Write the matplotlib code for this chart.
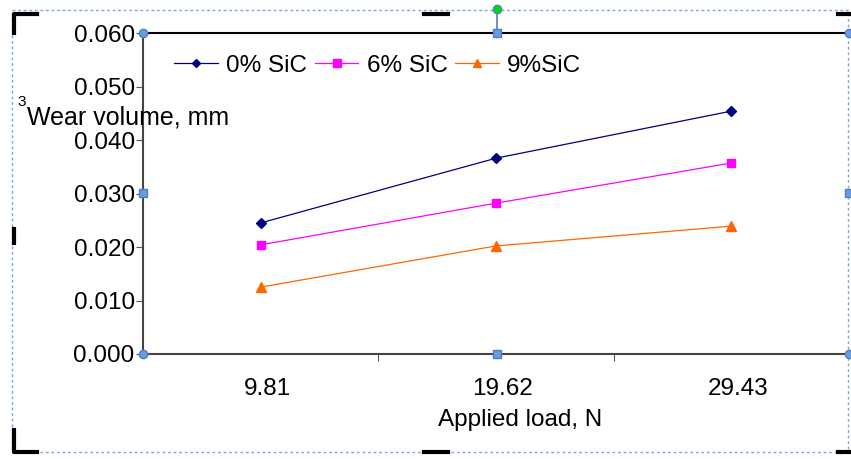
import matplotlib.pyplot as plt
import matplotlib.transforms as mtransforms
from matplotlib.lines import Line2D
from matplotlib.patches import Rectangle

plt.rcParams['font.family'] = ['Liberation Sans', 'DejaVu Sans']

# data
loads = ["9.81", "19.62", "29.43"]
sic0 = [0.0245, 0.0366, 0.0454]
sic6 = [0.0204, 0.0282, 0.0357]
sic9 = [0.0125, 0.0202, 0.0239]
series_names = ["0% SiC", "6% SiC", "9%SiC"]
yticks = [0.0, 0.01, 0.02, 0.03, 0.04, 0.05, 0.06]

FS = 17.5
W, H = 851, 459
fig = plt.figure(figsize=(W / 100, H / 100), dpi=100)
ax = fig.add_axes([143 / W, 1 - 354 / H, 706 / W, 321 / H])

x = range(len(loads))
ax.plot(x, sic0, color="#000080", marker="D", ms=5, lw=0.9, label=series_names[0])
ax.plot(x, sic6, color="#ff00ff", marker="s", ms=6, lw=0.9, label=series_names[1])
ax.plot(x, sic9, color="#ff6600", marker="^", ms=7, lw=0.9, label=series_names[2])

ax.set_xlim(-0.5, 2.5)
ax.set_ylim(0, 0.06)
ax.set_yticks(yticks)
ax.set_yticklabels([f"{v:.3f}" for v in yticks], fontsize=FS)
ax.set_xticks([0.5, 1.5])
ax.set_xticklabels([])
ax.set_xticks(list(x), minor=True)
ax.set_xticklabels(loads, minor=True, fontsize=FS)
ax.tick_params(axis="x", which="minor", length=0, pad=17)
ax.tick_params(axis="x", which="major", length=5, color="#555555")
ax.tick_params(axis="y", length=5, color="#555555", pad=1)
shift = mtransforms.ScaledTranslation(7 / 100, 0, fig.dpi_scale_trans)
for lab in ax.get_xticklabels(minor=True):
    lab.set_transform(lab.get_transform() + shift)

ax.spines["right"].set_visible(False)
for s in ["left", "bottom"]:
    ax.spines[s].set_color("#444444")
    ax.spines[s].set_linewidth(1.5)
ax.spines["top"].set_color("black")
ax.spines["top"].set_linewidth(1.5)

ax.set_xlabel("Applied load, N", fontsize=FS)
ax.xaxis.set_label_coords(520 / W, 1 - 420 / H, transform=fig.transFigure)
ax.xaxis.label.set_va("center")

leg = ax.legend(loc="upper left", bbox_to_anchor=(0.02, 0.985), ncol=3, frameon=False,
                fontsize=FS, handlelength=1.8, handletextpad=0.35, columnspacing=0.3,
                borderaxespad=0.3, markerscale=0.9)

# misplaced y label as in the screenshot
fig.text(26 / W, 1 - 102 / H, "3", fontsize=11, va="center", ha="right")
fig.text(27 / W, 1 - 117 / H, "Wear volume, mm", fontsize=FS + 0.5, va="center", ha="left")

# selection frame from the screenshot
fig.add_artist(Rectangle((12 / W, 1 - 452 / H), 836 / W, 442 / H, transform=fig.transFigure,
                         fill=False, ec="#7aa7e0", lw=1, ls=(0, (2, 2))))
marks = [
    ([14, 14, 37], [33, 14, 14]), ([14, 14, 37], [430, 452, 452]),
    ([424, 448], [14, 14]), ([424, 448], [452, 452]),
    ([14, 14], [229, 243]), ([838, 851], [14, 14]), ([838, 851], [452, 452]),
]
for xs, ys in marks:
    fig.add_artist(Line2D([v / W for v in xs], [1 - v / H for v in ys],
                          transform=fig.transFigure, color="black", lw=3))
fig.add_artist(Line2D([497 / W, 497 / W], [1 - 9 / H, 1 - 33 / H],
                      transform=fig.transFigure, color="#4f81bd", lw=1.2))
fig.add_artist(Line2D([497 / W], [1 - 9 / H], transform=fig.transFigure, marker="o",
                      ms=6, mfc="#00dd00", mec="#4f81bd"))
for hx, hy in [(143, 33), (849, 33), (143, 354), (849, 354)]:
    fig.add_artist(Line2D([hx / W], [1 - hy / H], transform=fig.transFigure, marker="o",
                          ms=6, mfc="#6a9be0", mec="#4f81bd"))
for hx, hy in [(497, 33), (143, 193), (849, 193), (497, 354)]:
    fig.add_artist(Line2D([hx / W], [1 - hy / H], transform=fig.transFigure, marker="s",
                          ms=6, mfc="#6a9be0", mec="#4f81bd"))

fig.savefig("out.png", dpi=100)
